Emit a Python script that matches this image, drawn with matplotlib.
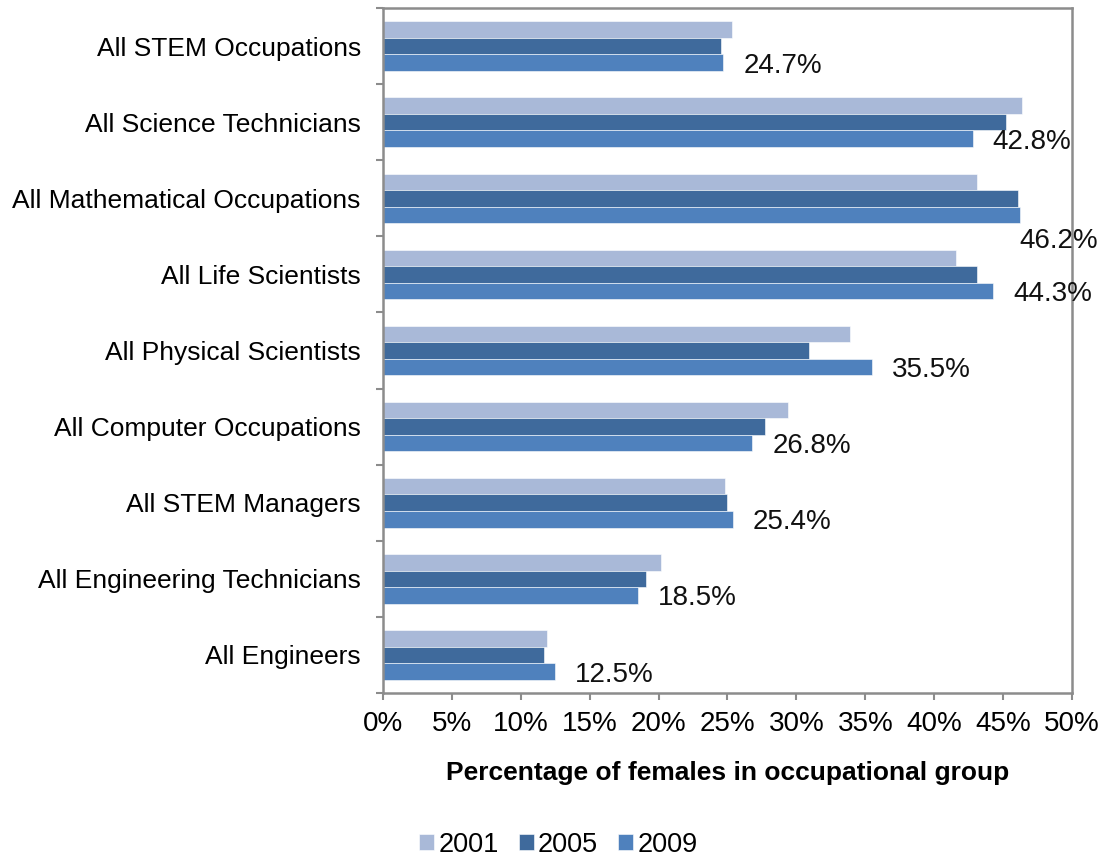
"""Female share of STEM occupations, 2001-2009 (horizontal grouped bars)."""

import numpy as np
import matplotlib.pyplot as plt
from matplotlib.ticker import FuncFormatter, MultipleLocator, FixedLocator

plt.rcParams['font.family'] = ['Liberation Sans', 'DejaVu Sans']

# Data (percent)
categories = [
    'All STEM Occupations',
    'All Science Technicians',
    'All Mathematical Occupations',
    'All Life Scientists',
    'All Physical Scientists',
    'All Computer Occupations',
    'All STEM Managers',
    'All Engineering Technicians',
    'All Engineers',
]
years = ['2001', '2005', '2009']
share_2001 = [25.3, 46.4, 43.1, 41.6, 33.9, 29.4, 24.8, 20.2, 11.9]
share_2005 = [24.5, 45.2, 46.1, 43.1, 30.9, 27.7, 25.0, 19.1, 11.7]
share_2009 = [24.7, 42.8, 46.2, 44.3, 35.5, 26.8, 25.4, 18.5, 12.5]
colors = ['#A9B9D8', '#3F6A9C', '#4F81BD']


def main():
    fig = plt.figure(figsize=(10.99, 8.61), dpi=100)
    ax = fig.add_axes([0.3485, 0.1951, 0.6269, 0.7956])

    y = np.arange(len(categories))
    h = 0.217
    series = [share_2001, share_2005, share_2009]
    for i, (vals, color, label) in enumerate(zip(series, colors, years)):
        ax.barh(y + (i - 1) * h, vals, height=h, color=color,
                edgecolor='white', linewidth=0.4, label=label)

    # data labels for 2009, Excel-style next to the bar end
    for yi, v in zip(y, share_2009):
        x = v + 1.45
        dy = 0.04
        if x > 46.0:  # would run off the right edge: tuck it under
            x = v
            dy = 0.35
        ax.text(x, yi + h + dy, f'{v:.1f}%', ha='left', va='center',
                fontsize=20, color='#111111')

    ax.set_xlim(0, 50)
    ax.set_ylim(len(categories) - 0.5, -0.5)
    ax.xaxis.set_major_locator(MultipleLocator(5))
    ax.xaxis.set_major_formatter(FuncFormatter(lambda v, p: f'{v:.0f}%'))

    ax.set_yticks(y)
    ax.set_yticklabels(categories)
    ax.yaxis.set_minor_locator(FixedLocator(np.arange(-0.5, len(categories), 1.0)))

    for side in ['top', 'right', 'left', 'bottom']:
        ax.spines[side].set_color('#8C8C8C')
        ax.spines[side].set_linewidth(1.8)

    ax.tick_params(axis='y', which='major', length=0, pad=16, labelsize=19)
    ax.tick_params(axis='y', which='minor', length=5, width=1.5, color='#8C8C8C', direction='out')
    ax.tick_params(axis='x', which='major', length=5, width=1.5, color='#8C8C8C',
                   direction='out', pad=8, labelsize=20)

    ax.set_xlabel('Percentage of females in occupational group', fontsize=19,
                  fontweight='bold', labelpad=17)

    handles, labels = ax.get_legend_handles_labels()
    fig.legend(handles, labels, loc='center', bbox_to_anchor=(0.508, 0.019),
               ncol=3, frameon=False, fontsize=19.5, handlelength=0.55,
               handleheight=0.55, handletextpad=0.15, columnspacing=0.75)

    plt.savefig('out.png', dpi=100)


if __name__ == "__main__":
    main()
